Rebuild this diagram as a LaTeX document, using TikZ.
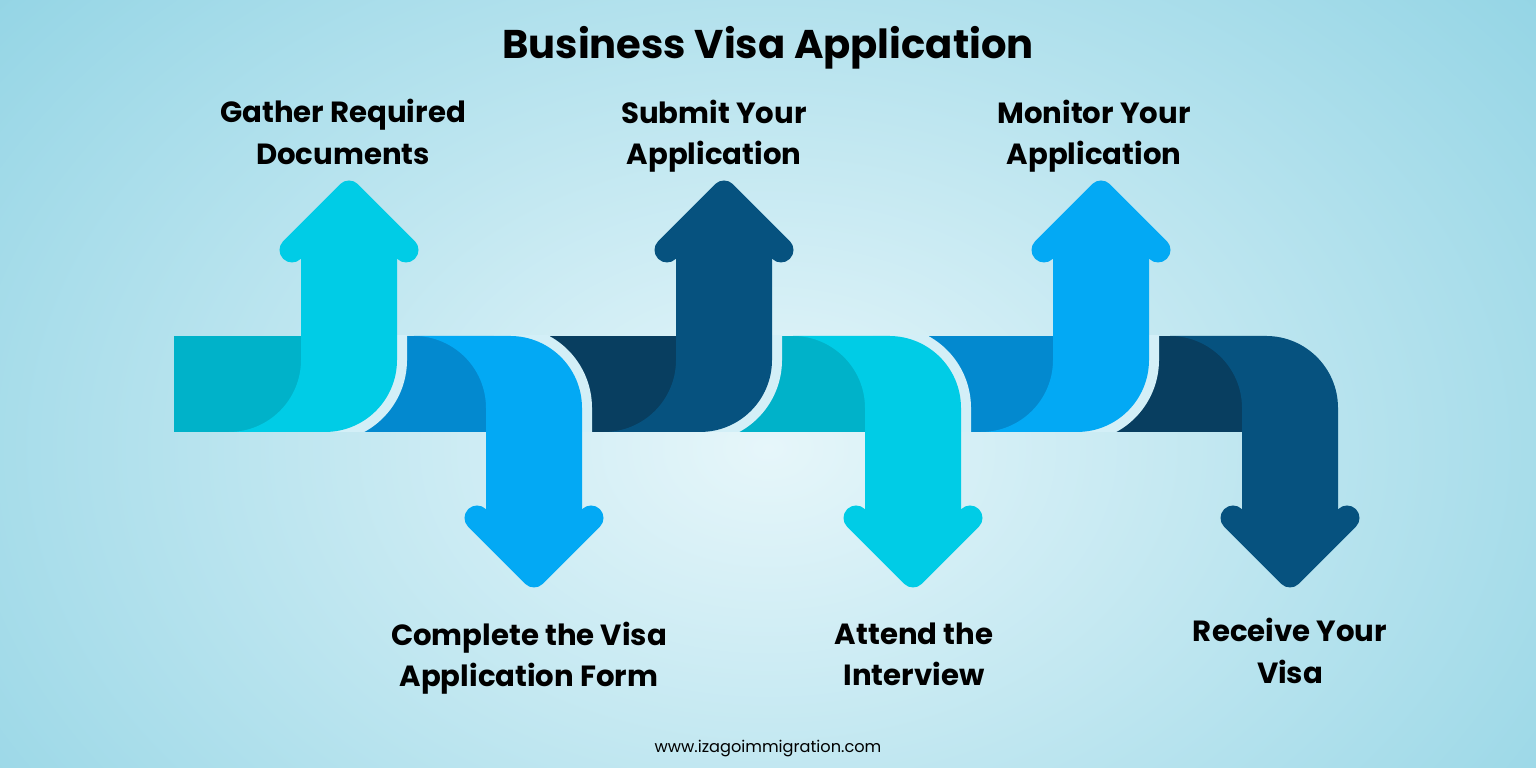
\documentclass[tikz,border=0pt]{standalone}
\usepackage{fontspec}
\setmainfont{Poppins}
\usepackage{tikz}
\definecolor{cyanlight}{HTML}{00CCE6}
\definecolor{cyandark}{HTML}{00B2C9}
\definecolor{bluelight}{HTML}{03A9F4}
\definecolor{bluedark}{HTML}{0389CF}
\definecolor{navylight}{HTML}{06527F}
\definecolor{navydark}{HTML}{083E60}
\definecolor{gapcol}{HTML}{D3EFF7}
\definecolor{bgin}{HTML}{E6F6FA}
\definecolor{bgout}{HTML}{88D0E2}
\newcommand{\gapsize}{.2cm}
\newcommand{\headwidth}{.25cm}

% bend going up: shaft centre, left end of band, light, dark
\newcommand{\arrowup}[4]{
  \fill[#4] (#2,336) rectangle (#1-48,432);
  \fill[#3] (#1-48,527) -- (#1-48,408) arc[start angle=0,end angle=-90,radius=72]
    -- (#1-24,336) arc[start angle=-90,end angle=0,radius=72] -- (#1+48,527) -- (#1,575) -- cycle;
  \draw[#3, line width=\headwidth, line cap=round, line join=round] (#1-57,518) -- (#1,575) -- (#1+57,518);
}
% bend going down
\newcommand{\arrowdown}[4]{
  \fill[#4] (#2,336) rectangle (#1-48,432);
  \fill[#3] (#1-48,241) -- (#1-48,360) arc[start angle=0,end angle=90,radius=72]
    -- (#1-24,432) arc[start angle=90,end angle=0,radius=72] -- (#1+48,241) -- (#1,193) -- cycle;
  \draw[#3, line width=\headwidth, line cap=round, line join=round] (#1-57,250) -- (#1,193) -- (#1+57,250);
}
% light seam round the outer bend
\newcommand{\gapup}[1]{
  \begin{scope}
    \clip (0,336) rectangle (1536,432);
    \draw[gapcol, line width=\gapsize] (#1+48,440) -- (#1+48,408) arc[start angle=0,end angle=-90,radius=72] -- (#1-40,336);
  \end{scope}
}
\newcommand{\gapdown}[1]{
  \begin{scope}
    \clip (0,336) rectangle (1536,432);
    \draw[gapcol, line width=\gapsize] (#1+48,328) -- (#1+48,360) arc[start angle=0,end angle=90,radius=72] -- (#1-40,432);
  \end{scope}
}

\begin{document}
\begin{tikzpicture}[x=.01cm, y=.01cm,
    steplabel/.style={font=\bfseries\fontsize{8.3}{11.7}\selectfont, align=center, inner sep=0pt}]

  \useasboundingbox (0,0) rectangle (1536,768);
  \begin{scope}
    \clip (0,0) rectangle (1536,768);
    \fill[bgout] (0,0) rectangle (1536,768);
    \shade[inner color=bgin, outer color=bgout] (768,320) ellipse [x radius=1150, y radius=820];
  \end{scope}

  \arrowdown{1290}{1101}{navylight}{navydark}
  \gapup{1101}
  \arrowup{1101}{913}{bluelight}{bluedark}
  \gapdown{913}
  \arrowdown{913}{724}{cyanlight}{cyandark}
  \gapup{724}
  \arrowup{724}{534}{navylight}{navydark}
  \gapdown{534}
  \arrowdown{534}{349}{bluelight}{bluedark}
  \gapup{349}
  \arrowup{349}{174}{cyanlight}{cyandark}

  \node (title) at (768,720) [font=\bfseries\fontsize{11.4}{14}\selectfont, inner sep=0pt] {Business Visa Application};

  \node (gather) at (343,636) [steplabel] {Gather Required\\Documents};
  \node (submit) at (714,632) [steplabel] {Submit Your\\Application};
  \node (monitor) at (1094,632) [steplabel] {Monitor Your\\Application};
  \node (complete) at (529,110) [steplabel] {Complete the Visa\\Application Form};
  \node (attend) at (914,114) [steplabel] {Attend the\\Interview};
  \node (receive) at (1290,117) [steplabel] {Receive Your\\Visa};

  \node (url) at (768,19) [font=\fontsize{4.6}{6}\selectfont, inner sep=0pt] {www.izagoimmigration.com};
\end{tikzpicture}
\end{document}
